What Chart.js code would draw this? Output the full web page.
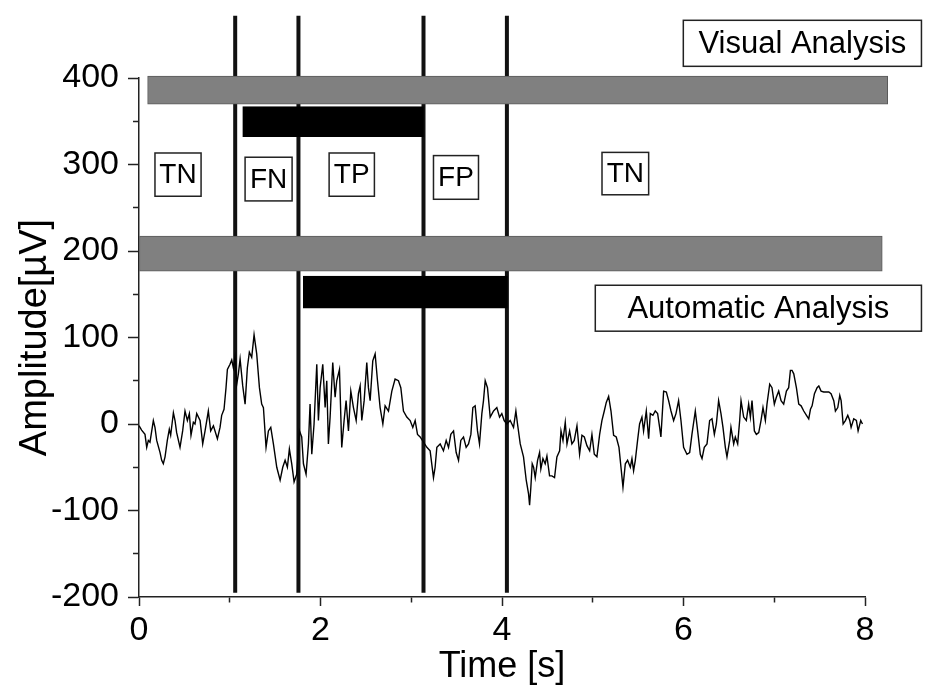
<!DOCTYPE html>
<html>
<head>
<meta charset="utf-8">
<script src="https://cdn.jsdelivr.net/npm/chart.js@4/dist/chart.umd.min.js"></script>
<style>
  html, body { margin: 0; padding: 0; background: #ffffff; }
  #wrap { width: 933px; height: 689px; }
</style>
</head>
<body>
<div id="wrap"><canvas id="c" width="933" height="689"></canvas></div>
<script>
// ---- EEG trace (time in s, amplitude in µV) ----
const timeS = [
  0.000,0.029,0.066,0.085,0.103,0.121,0.158,0.176,0.195,0.232,0.250,0.268,0.287,0.312,0.334,0.349,0.379,0.397,0.415,0.452,
  0.481,0.507,0.533,0.555,0.573,0.599,0.617,0.636,0.673,0.702,0.728,0.764,0.790,0.820,0.864,0.893,0.911,0.937,0.959,0.974,
  1.003,1.022,1.040,1.058,1.077,1.095,1.114,1.143,1.169,1.194,1.216,1.242,1.268,1.297,1.327,1.352,1.371,1.400,1.426,1.452,
  1.481,1.518,1.555,1.584,1.610,1.635,1.657,1.683,1.709,1.738,1.768,1.793,1.812,1.841,1.867,1.885,1.904,1.929,1.959,1.977,
  1.996,2.025,2.051,2.069,2.087,2.106,2.135,2.161,2.179,2.209,2.234,2.260,2.282,2.308,2.334,2.363,2.393,2.418,2.437,2.455,
  2.481,2.510,2.528,2.547,2.576,2.602,2.628,2.657,2.687,2.712,2.749,2.786,2.822,2.859,2.885,2.914,2.951,2.988,3.017,3.043,
  3.069,3.098,3.172,3.208,3.245,3.263,3.282,3.319,3.355,3.385,3.411,3.436,3.466,3.495,3.521,3.546,3.576,3.605,3.631,3.657,
  3.679,3.704,3.730,3.752,3.778,3.796,3.815,3.840,3.870,3.907,3.943,3.973,3.998,4.024,4.054,4.090,4.127,4.153,4.171,4.201,
  4.237,4.267,4.293,4.304,4.318,4.333,4.348,4.366,4.392,4.414,4.428,4.451,4.476,4.495,4.524,4.550,4.579,4.605,4.635,4.650,
  4.672,4.697,4.716,4.745,4.770,4.796,4.826,4.855,4.881,4.907,4.936,4.966,4.991,5.017,5.046,5.076,5.101,5.127,5.149,5.175,
  5.201,5.230,5.259,5.289,5.311,5.333,5.359,5.384,5.414,5.432,5.450,5.469,5.494,5.516,5.542,5.560,5.590,5.616,5.634,5.663,
  5.689,5.715,5.737,5.751,5.781,5.811,5.836,5.862,5.891,5.917,5.946,5.972,6.001,6.038,6.068,6.093,6.130,6.156,6.185,6.204,
  6.229,6.259,6.288,6.314,6.340,6.362,6.387,6.413,6.435,6.461,6.479,6.509,6.523,6.553,6.571,6.597,6.619,6.634,6.663,6.692,
  6.718,6.737,6.755,6.781,6.803,6.829,6.854,6.876,6.902,6.920,6.950,6.975,7.001,7.023,7.049,7.075,7.104,7.134,7.159,7.178,
  7.196,7.215,7.244,7.270,7.296,7.325,7.355,7.380,7.399,7.417,7.443,7.472,7.491,7.516,7.545,7.575,7.601,7.626,7.656,7.674,
  7.700,7.722,7.737,7.759,7.784,7.810,7.832,7.847,7.876,7.905,7.924,7.953,7.972
];
const amplitude = [
  -2,-7,-12,-27,-19,-21,4,-4,-19,-33,-42,-46,-38,-19,-6,-13,13,4,-10,-27,
  -8,15,4,12,-13,2,0,12,4,-23,-8,15,-8,-2,-17,-4,10,17,42,63,
  69,74,65,77,46,58,75,44,23,65,83,77,103,81,42,23,19,-27,-8,-4,
  -23,-50,-65,-50,-42,-50,-29,-46,-67,-58,-8,-15,-46,-58,-23,23,-35,0,69,4,
  42,69,19,50,-23,8,71,31,50,63,-27,4,27,-8,38,19,4,35,44,4,
  27,71,42,27,73,81,50,19,0,21,15,38,52,50,42,15,8,4,-4,4,
  -12,-15,-27,-31,-62,-50,-27,-23,-31,-19,-27,-12,-8,-33,-42,-19,-15,-27,-23,-12,
  19,21,-8,-23,12,27,50,42,8,15,19,8,12,4,0,4,-4,15,0,-23,
  -38,-65,-81,-94,-73,-46,-50,-62,-42,-33,-52,-40,-46,-37,-60,-60,-62,-38,-31,-8,
  -19,2,-23,-8,-23,-19,-2,-35,-13,-15,-25,-31,-12,-35,-38,-12,4,15,25,32,
  15,-13,-15,-27,-50,-73,-46,-42,-50,-40,-54,-42,-19,0,8,-8,15,-17,12,10,
  15,12,-4,-15,38,37,27,15,4,12,27,4,-27,-35,-33,-12,15,-8,-35,-40,
  -27,-23,4,6,-12,0,27,12,-4,-27,-38,-19,-4,-23,-15,-23,4,27,8,4,
  23,8,27,-8,-12,-10,4,19,4,23,46,42,23,31,38,27,23,38,42,62,
  62,58,42,23,21,15,10,6,17,21,35,42,44,38,37,37,37,35,27,15,
  19,33,27,0,4,10,4,-4,6,4,-8,4,0
];

// ---- vertical segment markers (s) and their amplitude extent ----
const markerTimes = [1.06, 1.757, 3.135, 4.054];
const markerLow = -195;
const markerHigh = 472;

// ---- analysis bars: [start s, end s], amplitude band [low, high] ----
const barNames  = ['Visual analysis', 'Visual detection', 'Automatic analysis', 'Automatic detection'];
const barStart  = [0.095, 1.143, 0.0, 1.81];
const barEnd    = [8.25, 3.135, 8.19, 4.06];
const barLow    = [370, 332, 177, 134];
const barHigh   = [402, 367, 217, 171];

// ---- text boxes (data-space box corners) ----
const boxTexts = ['TN', 'FN', 'TP', 'FP', 'TN', 'Visual Analysis', 'Automatic Analysis'];
const boxXMin  = [0.176, 1.169, 2.095, 3.245, 5.102, 5.998, 5.028];
const boxXMax  = [0.684, 1.687, 2.594, 3.741, 5.616, 8.622, 8.622];
const boxYMin  = [263.3, 257.9, 263.3, 259.8, 265.0, 413.5, 107.3];
const boxYMax  = [313.3, 308.4, 313.3, 310.3, 314.0, 466.7, 160.4];

// ---- axis ticks ----
const xTickStep = 1, xLabelEvery = 2;
const yTickStep = 50, yLabelEvery = 100;

const FONT = "'Liberation Sans', Arial, sans-serif";
const barColors = ['#808080', '#000000', '#808080', '#000000'];
const barBorders = ['#5a5a5a', '#000000', '#5a5a5a', '#000000'];
const barThick = [28, 30, 35, 32];

const datasets = [];
// bars on top
barNames.forEach((name, i) => {
  datasets.push({
    type: 'bar',
    label: name,
    indexAxis: 'y',
    grouped: false,
    data: [{ y: (barLow[i] + barHigh[i]) / 2, x: [barStart[i], barEnd[i]] }],
    backgroundColor: barColors[i],
    borderColor: barBorders[i],
    borderWidth: 1,
    borderSkipped: false,
    barThickness: barThick[i],
    clip: false,
    order: 0
  });
});
// trace
datasets.push({
  type: 'line',
  label: 'EEG',
  data: timeS.map((t, i) => ({ x: t, y: amplitude[i] })),
  borderColor: '#000000',
  borderWidth: 1.4,
  pointRadius: 0,
  tension: 0,
  fill: false,
  order: 1
});
// markers
markerTimes.forEach((t, i) => {
  datasets.push({
    type: 'line',
    label: 'marker' + i,
    data: [{ x: t, y: markerLow }, { x: t, y: markerHigh }],
    borderColor: '#111111',
    borderWidth: 4,
    pointRadius: 0,
    fill: false,
    clip: false,
    order: 2
  });
});

const boxPlugin = {
  id: 'boxLabels',
  afterDatasetsDraw(chart) {
    const { ctx, scales: { x, y } } = chart;
    ctx.save();
    boxTexts.forEach((txt, i) => {
      const l = x.getPixelForValue(boxXMin[i]);
      const r = x.getPixelForValue(boxXMax[i]);
      const t = y.getPixelForValue(boxYMax[i]);
      const b = y.getPixelForValue(boxYMin[i]);
      ctx.fillStyle = '#ffffff';
      ctx.fillRect(l, t, r - l, b - t);
      ctx.strokeStyle = '#222222';
      ctx.lineWidth = 1.5;
      ctx.strokeRect(l, t, r - l, b - t);
      const big = txt.length > 3;
      ctx.font = (big ? '31px ' : '28px ') + FONT;
      ctx.fillStyle = '#000000';
      ctx.textAlign = 'center';
      ctx.textBaseline = 'middle';
      ctx.fillText(txt, (l + r) / 2, (t + b) / 2 + 1);
    });
    ctx.restore();
  }
};

new Chart(document.getElementById('c'), {
  type: 'line',
  data: { datasets },
  options: {
    responsive: false,
    animation: false,
    events: [],
    layout: { padding: { top: 78, right: 68, bottom: 0, left: 0 } },
    plugins: { legend: { display: false }, tooltip: { enabled: false } },
    scales: {
      x: {
        type: 'linear',
        min: 0, max: 8,
        offset: false,
        afterFit(s) { s.height = 92; },
        border: { display: true, color: '#222222', width: 1.5 },
        grid: {
          offset: false,
          drawOnChartArea: false, drawTicks: true, tickLength: 9,
          tickColor: '#222222', tickWidth: 1.5,
          tickBorderDash: (c) => (c.tick && (c.tick.value % xLabelEvery) !== 0) ? [5, 100] : []
        },
        ticks: {
          stepSize: xTickStep, autoSkip: false, maxRotation: 0, padding: 4,
          color: '#000000', font: { family: FONT, size: 34 },
          callback: (v) => (v % xLabelEvery === 0 ? String(v) : '')
        },
        title: { display: true, text: 'Time [s]', color: '#000000', font: { family: FONT, size: 36 }, padding: { top: 0, bottom: 0 } }
      },
      y: {
        type: 'linear',
        min: -200, max: 400,
        offset: false,
        afterFit(s) { s.width = 139; },
        border: { display: true, color: '#222222', width: 1.5 },
        grid: {
          offset: false,
          drawOnChartArea: false, drawTicks: true, tickLength: 11,
          tickColor: '#222222', tickWidth: 1.5,
          tickBorderDash: (c) => (c.tick && (c.tick.value % yLabelEvery) !== 0) ? [0, 5, 6, 100] : []
        },
        ticks: {
          stepSize: yTickStep, autoSkip: false, padding: 9,
          color: '#000000', font: { family: FONT, size: 34 },
          callback: (v) => (v % yLabelEvery === 0 ? String(v) : '')
        },
        title: { display: true, text: 'Amplitude[µV]', color: '#000000', font: { family: FONT, size: 38 }, padding: { top: 13, bottom: 0 } }
      }
    }
  },
  plugins: [boxPlugin]
});
</script>
</body>
</html>
